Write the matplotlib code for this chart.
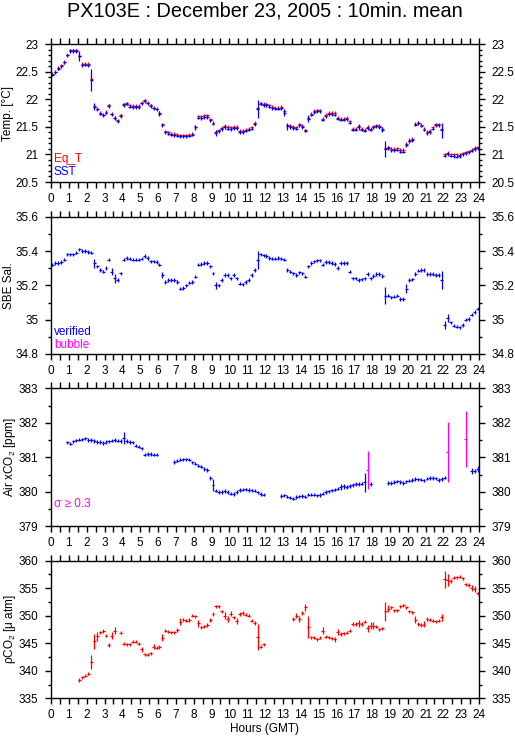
import numpy as np
import matplotlib
matplotlib.use("Agg")
import matplotlib.pyplot as plt
from matplotlib.ticker import MultipleLocator, FuncFormatter

plt.rcParams['font.family'] = ['Liberation Sans', 'DejaVu Sans']
plt.rcParams['mathtext.fontset'] = 'custom'
plt.rcParams['mathtext.rm'] = 'Liberation Sans'
plt.rcParams['mathtext.it'] = 'Liberation Sans:italic'

nan = np.nan

title = "PX103E : December 23, 2005 : 10min. mean"
hour_ticks = list(range(0, 25))

# 10-minute means (6 per hour), hour 0 .. 23
sst = [
    22.45, 22.49, 22.56, 22.60, 22.67, 22.80,
    22.88, 22.88, 22.88, 22.78, 22.62, 22.63,
    22.62, 22.35, 21.87, 21.82, 21.74, 21.71,
    21.76, 21.88, 21.73, 21.66, 21.60, 21.70,
    21.90, 21.92, 21.87, 21.86, 21.86, 21.86,
    21.93, 21.97, 21.93, 21.88, 21.84, 21.82,
    21.74, 21.53, 21.40, 21.38, 21.36, 21.35,
    21.34, 21.33, 21.33, 21.33, 21.34, 21.36,
    21.49, 21.67, 21.66, 21.68, 21.68, 21.62,
    21.56, 21.39, 21.42, 21.46, 21.50, 21.47,
    21.46, 21.48, 21.48, 21.41, 21.41, 21.43,
    21.45, 21.47, 21.55, 21.82, 21.92, 21.90,
    21.90, 21.87, 21.84, 21.83, 21.83, 21.84,
    21.76, 21.51, 21.50, 21.48, 21.47, 21.53,
    21.50, 21.43, 21.65, 21.72, 21.77, 21.79,
    21.78, 21.63, 21.69, 21.73, 21.73, 21.72,
    21.65, 21.63, 21.63, 21.64, 21.58, 21.45,
    21.45, 21.50, 21.45, 21.43, 21.48, 21.45,
    21.49, 21.51, 21.50, 21.45, 21.10, 21.12,
    21.08, 21.08, 21.09, 21.05, 21.05, 21.17,
    21.24, 21.26, 21.54, 21.57, 21.52, 21.45,
    21.39, 21.41, 21.47, 21.53, 21.53, 21.44,
    20.98, 21.01, 20.98, 20.97, 20.96, 20.97,
    21.00, 21.02, 21.04, 21.07, 21.10, 21.11,
]
eq_t = [
    22.46, 22.50, 22.57, 22.62, 22.68, 22.81,
    22.89, 22.89, 22.89, 22.79, 22.64, 22.65,
    22.64, 22.37, 21.88, 21.83, 21.75, 21.72,
    21.77, 21.89, 21.74, 21.67, 21.62, 21.71,
    21.91, 21.93, 21.89, 21.88, 21.88, 21.88,
    21.94, 21.98, 21.94, 21.89, 21.85, 21.83,
    21.75, 21.55, 21.42, 21.40, 21.38, 21.37,
    21.36, 21.35, 21.35, 21.35, 21.36, 21.38,
    21.50, 21.69, 21.69, 21.71, 21.71, 21.64,
    21.58, 21.41, 21.44, 21.48, 21.52, 21.50,
    21.49, 21.50, 21.50, 21.43, 21.43, 21.45,
    21.47, 21.49, 21.57, 21.84, 21.93, 21.92,
    21.91, 21.89, 21.86, 21.85, 21.85, 21.86,
    21.78, 21.53, 21.52, 21.50, 21.49, 21.55,
    21.52, 21.44, 21.67, 21.74, 21.79, 21.80,
    21.80, 21.65, 21.72, 21.76, 21.76, 21.75,
    21.67, 21.65, 21.65, 21.66, 21.60, 21.47,
    21.47, 21.51, 21.47, 21.45, 21.50, 21.47,
    21.51, 21.53, 21.52, 21.47, 21.11, 21.13,
    21.10, 21.10, 21.11, 21.08, 21.08, 21.19,
    21.26, 21.28, 21.56, 21.58, 21.54, 21.47,
    21.41, 21.43, 21.49, 21.55, 21.55, 21.46,
    21.00, 21.03, 21.00, 21.00, 21.00, 20.99,
    21.02, 21.04, 21.06, 21.09, 21.12, 21.13,
]
sal = [
    35.32, 35.33, 35.33, 35.335, 35.35, 35.38,
    35.38, 35.38, 35.39, 35.41, 35.40, 35.40,
    35.395, 35.39, 35.33, 35.31, 35.29, 35.28,
    35.30, 35.35, 35.28, 35.24, 35.23, 35.27,
    35.35, 35.36, 35.355, 35.35, 35.35, 35.35,
    35.355, 35.37, 35.36, 35.34, 35.34, 35.335,
    35.32, 35.26, 35.22, 35.23, 35.23, 35.23,
    35.22, 35.18, 35.185, 35.20, 35.215, 35.22,
    35.25, 35.32, 35.325, 35.33, 35.33, 35.31,
    35.27, 35.20, 35.20, 35.23, 35.26, 35.26,
    35.24, 35.26, 35.24, 35.21, 35.205, 35.22,
    35.23, 35.26, 35.29, 35.35, 35.38, 35.375,
    35.37, 35.36, 35.355, 35.355, 35.36, 35.355,
    35.35, 35.29, 35.28, 35.27, 35.26, 35.275,
    35.27, 35.25, 35.31, 35.33, 35.34, 35.345,
    35.345, 35.32, 35.335, 35.335, 35.33, 35.325,
    35.30, 35.33, 35.33, 35.33, 35.28, 35.24,
    35.24, 35.23, 35.235, 35.24, 35.265, 35.24,
    35.255, 35.265, 35.265, 35.255, 35.14, 35.14,
    35.13, 35.135, 35.14, 35.12, 35.12, 35.18,
    35.23, 35.235, 35.265, 35.285, 35.29, 35.29,
    35.265, 35.265, 35.265, 35.26, 35.26, 35.23,
    34.97, 35.01, 34.985, 34.965, 34.96, 34.955,
    34.97, 35.00, 35.005, 35.03, 35.045, 35.065,
]
air_xco2 = [
    nan, nan, nan, nan, nan, 381.43,
    381.40, 381.46, 381.49, 381.51, 381.52, 381.55,
    381.50, 381.50, 381.47, 381.45, 381.45, 381.42,
    381.44, 381.46, 381.48, 381.50, 381.48, 381.47,
    381.55, 381.47, 381.45, 381.43, 381.34, 381.31,
    381.26, 381.08, 381.09, 381.10, 381.08, 381.08,
    nan, nan, nan, nan, nan, 380.86,
    380.90, 380.93, 380.94, 380.94, 380.93, 380.85,
    380.82, 380.76, 380.73, 380.66, 380.63, 380.40,
    380.20, 380.03, 380.00, 380.00, 380.02, 380.00,
    379.95, 379.93, 380.00, 380.05, 380.06, 380.07,
    380.05, 380.04, 380.03, 379.98, 379.93, 379.92,
    nan, nan, nan, nan, nan, 379.88,
    379.90, 379.86, 379.83, 379.80, 379.85, 379.87,
    379.88, 379.86, 379.92, 379.92, 379.92, 379.90,
    379.91, 379.95, 379.99, 380.01, 380.04, 380.06,
    380.09, 380.14, 380.16, 380.14, 380.17, 380.20,
    380.23, 380.22, 380.24, 380.27, 380.62, 380.22,
    nan, nan, nan, nan, nan, 380.25,
    380.26, 380.28, 380.30, 380.28, 380.26, 380.30,
    380.32, 380.34, 380.37, 380.36, 380.35, 380.33,
    380.38, 380.40, 380.40, 380.39, 380.34, 380.37,
    380.41, 381.15, nan, nan, nan, nan,
    nan, 381.52, nan, 380.60, 380.60, 380.66,
]
pco2 = [
    nan, nan, nan, nan, nan, nan,
    nan, nan, nan, 338.35, 338.8, 339.1,
    339.5, 341.6, 345.4, 346.3, 347.0, 347.2,
    346.4, 344.7, 346.4, 347.3, nan, 346.9,
    344.9, 344.8, 344.8, 345.3, 345.3, 344.9,
    343.9, 343.0, 342.9, 343.2, 344.4, 344.2,
    344.3, 346.0, 347.3, 347.1, 347.0, 347.0,
    347.4, 348.9, 349.3, 349.1, 349.2, 350.0,
    349.9, 348.6, 347.9, 348.1, 348.3, 349.2,
    350.3, 351.7, 351.7, 350.8, 350.0, 349.4,
    350.4, 349.7, 349.0, 350.3, 350.5, 350.2,
    350.0, 349.1, 348.7, 346.1, 344.4, 344.8,
    nan, nan, nan, nan, nan, nan,
    nan, nan, nan, 349.4, 350.0, 349.4,
    350.5, 351.5, 347.9, 346.1, 346.0, 345.7,
    346.0, 347.3, 346.2, 346.1, 345.9, 345.7,
    347.0, 346.7, 346.8, 346.9, 347.3, 348.5,
    348.5, 348.6, 348.5, 348.9, 347.7, 348.2,
    348.2, 348.0, 347.5, 347.7, 350.8, 351.3,
    351.5, 351.0, 351.0, 351.7, 351.9, 351.5,
    350.8, 350.6, 349.3, 348.5, 348.3, 348.5,
    349.4, 349.3, 349.1, 349.0, 349.1, 349.7,
    356.6, 356.5, 356.3, 356.9, 357.0, 357.1,
    356.8, 355.7, 355.6, 355.0, 354.9, 354.1,
]

# standard deviations: typical value plus larger spreads (slot index -> sd)
sst_sd_typical = 0.03
sst_sd_large = {9: 0.09, 13: 0.20, 14: 0.06, 36: 0.04, 48: 0.05, 55: 0.05,
                69: 0.16, 78: 0.06, 79: 0.06, 86: 0.06, 103: 0.05, 111: 0.05,
                112: 0.145, 131: 0.14}
sal_sd_typical = 0.01
sal_sd_large = {14: 0.026, 20: 0.02, 21: 0.025, 37: 0.02, 55: 0.02, 69: 0.053,
                112: 0.051, 119: 0.025, 131: 0.051, 132: 0.025, 133: 0.025}
air_sd_typical = 0.05
air_sd_large = {24: 0.17, 52: 0.06, 54: 0.17, 97: 0.08, 98: 0.08, 105: 0.27,
                106: 0.55, 133: 0.88, 139: 0.81, 141: 0.08, 143: 0.08}
pco2_sd_typical = 0.3
pco2_sd_large = {13: 1.27, 14: 1.36, 15: 0.8, 20: 0.6, 21: 0.6, 30: 0.5, 34: 0.5,
                 37: 0.6, 43: 0.6, 49: 0.6, 58: 0.6, 59: 0.6, 60: 0.5, 62: 0.5,
                 69: 2.4, 82: 0.5, 83: 0.5, 85: 0.6, 86: 2.0, 91: 0.6, 95: 0.5,
                 96: 0.5, 103: 0.7, 106: 0.6, 107: 0.6, 108: 0.6, 112: 1.7,
                 113: 0.6, 122: 0.6, 125: 0.5, 131: 0.6, 132: 1.5, 133: 1.1,
                 141: 0.5, 142: 0.5}
sigma_flag = 0.3

hours = np.arange(144) / 6.0 + 1.0 / 12.0


def sd_array(typical, large):
    a = np.full(144, typical)
    for k, v in large.items():
        a[k] = v
    return a


RED, BLUE, MAG = '#ff0000', '#0000ff', '#ff00ff'
FS = 8.5
LFS = 8.5

fig = plt.figure(figsize=(5.15, 7.39), dpi=100)
W, H = 515.0, 739.0
left_px, right_px = 51, 479
panels_px = [(44.3, 182.0), (216.7, 354.0), (388.3, 526.3), (560.7, 698.3)]
axes = []
for top, bot in panels_px:
    ax = fig.add_axes([left_px / W, 1 - bot / H, (right_px - left_px) / W, (bot - top) / H])
    axes.append(ax)


def style(ax, ylim, major, minor):
    ax.set_xlim(0, 24)
    ax.set_ylim(*ylim)
    ax.set_xticks(hour_ticks)
    ax.xaxis.set_minor_locator(MultipleLocator(0.5))
    ax.yaxis.set_major_locator(MultipleLocator(major))
    ax.yaxis.set_minor_locator(MultipleLocator(minor))
    ax.tick_params(axis='x', which='major', direction='out', length=4, width=1,
                   top=True, bottom=True, labeltop=False, labelbottom=True,
                   labelsize=FS, pad=4)
    ax.tick_params(axis='x', which='minor', direction='out', length=4, width=1,
                   top=True, bottom=True)
    ax.tick_params(axis='y', which='major', direction='out', length=4, width=1,
                   left=True, right=True, labelleft=True, labelright=True,
                   labelsize=FS, pad=5)
    ax.tick_params(axis='y', which='minor', direction='out', length=2.2, width=1,
                   left=True, right=True)
    for s in ax.spines.values():
        s.set_linewidth(1.0)
    ax.yaxis.set_major_formatter(FuncFormatter(lambda v, p: '%g' % round(v, 6)))


xe = 1.0 / 12.0
ekw = dict(fmt='none', elinewidth=0.9, capsize=0)

# Panel 1: temperatures
ax = axes[0]
ax.errorbar(hours, eq_t, xerr=xe, yerr=sd_array(sst_sd_typical, {}), ecolor=RED, **ekw)
ax.errorbar(hours, sst, xerr=xe, yerr=sd_array(sst_sd_typical, sst_sd_large), ecolor=BLUE, **ekw)
style(ax, (20.5, 23), 0.5, 0.1)
ax.set_ylabel('Temp. [°C]', fontsize=LFS)
ax.yaxis.set_label_coords((14.5 - left_px) / 428, 0.5)
ax.text(0.007, 0.167, 'Eq_T', color=RED, fontsize=FS, transform=ax.transAxes, va='center')
ax.text(0.007, 0.073, 'SST', color=BLUE, fontsize=FS, transform=ax.transAxes, va='center')

# Panel 2: salinity
ax = axes[1]
ax.errorbar(hours, sal, xerr=xe, yerr=sd_array(sal_sd_typical, sal_sd_large), ecolor=BLUE, **ekw)
style(ax, (34.8, 35.6), 0.2, 0.1)
ax.set_ylabel('SBE Sal.', fontsize=LFS)
ax.yaxis.set_label_coords((15.5 - left_px) / 428, 0.5)
ax.text(0.007, 0.16, 'verified', color=BLUE, fontsize=FS, transform=ax.transAxes, va='center')
ax.text(0.007, 0.066, 'bubble', color=MAG, fontsize=FS, transform=ax.transAxes, va='center')

# Panel 3: air xCO2
ax = axes[2]
air = np.array(air_xco2)
air_sd = sd_array(air_sd_typical, air_sd_large)
flag = air_sd >= sigma_flag
ax.errorbar(hours[~flag], air[~flag], xerr=xe, yerr=air_sd[~flag], ecolor=BLUE, **ekw)
ax.errorbar(hours[flag], air[flag], xerr=xe, yerr=air_sd[flag], ecolor=MAG, **ekw)
style(ax, (379, 383), 1, 0.5)
ax.set_ylabel('Air xCO$_2$ [ppm]', fontsize=LFS)
ax.yaxis.set_label_coords((18 - left_px) / 428, 0.5)
ax.text(0.007, 0.162, 'σ ≥ 0.3', color=MAG, fontsize=FS, transform=ax.transAxes, va='center')

# Panel 4: pCO2
ax = axes[3]
ax.errorbar(hours, pco2, xerr=xe, yerr=sd_array(pco2_sd_typical, pco2_sd_large), ecolor=RED, **ekw)
style(ax, (335, 360), 5, 2.5)
ax.set_ylabel('ρCO$_2$ [μ atm]', fontsize=LFS)
ax.yaxis.set_label_coords((18.5 - left_px) / 428, 0.5)

fig.text(265 / W, 1 - 11 / H, title, ha='center', va='center', fontsize=14.3)
fig.text(265 / W, 1 - 729 / H, 'Hours (GMT)', ha='center', va='center', fontsize=LFS)

fig.savefig('out.png', dpi=100)
